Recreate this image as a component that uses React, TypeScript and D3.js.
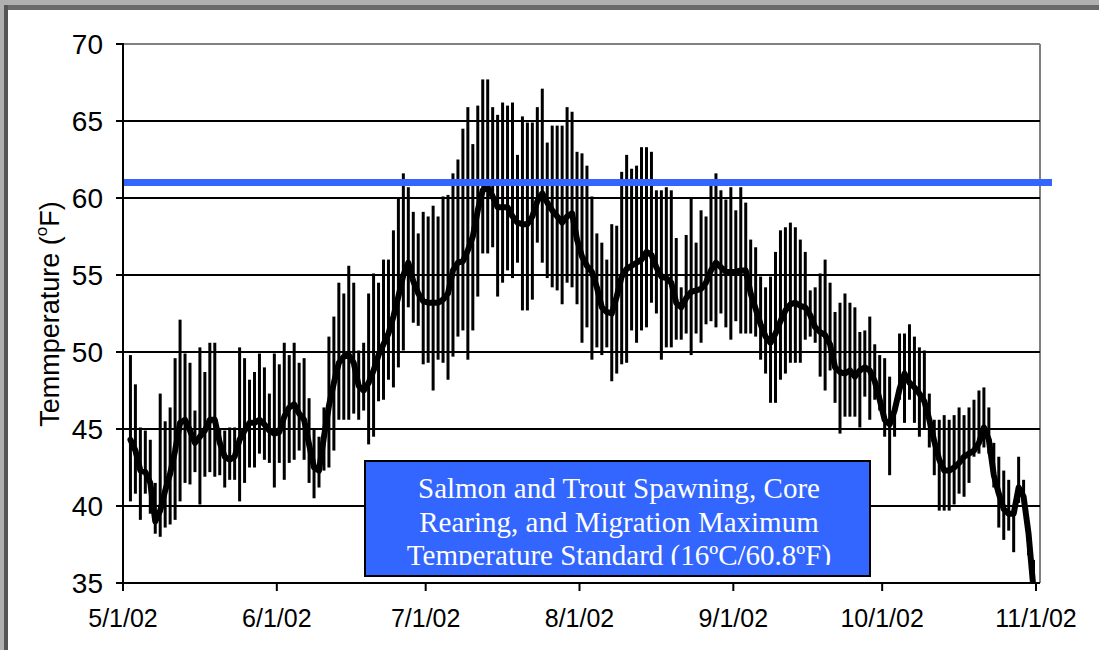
import React from "react";
import * as d3 from "d3";

// Daily readings, 2 May 2002 .. 31 Oct 2002 (degrees F)
const startDay = new Date(2002, 4, 2, 12);

const dailyMax: number[] = [
  49.8, 47.9, 45.1, 44.9, 44.3, 41.5, 47.3, 45.5, 46.4, 49.6,
  52.1, 49.9, 49.3, 46.2, 50.3, 48.7, 50.6, 50.6, 45.0, 44.9,
  45.1, 45.1, 50.3, 49.6, 48.2, 48.7, 49.9, 49.0, 47.3, 49.9,
  49.2, 50.6, 49.8, 50.6, 49.3, 49.6, 47.0, 45.0, 44.5, 46.4,
  51.0, 52.3, 54.5, 53.8, 55.6, 54.5, 50.1, 50.6, 53.8, 55.1,
  54.5, 56.0, 56.0, 57.9, 60.0, 61.6, 60.7, 59.1, 57.7, 59.1,
  58.8, 59.5, 58.8, 60.1, 60.2, 61.6, 62.5, 64.5, 65.9, 63.5,
  66.0, 67.7, 67.7, 65.9, 65.4, 66.2, 66.0, 66.2, 62.8, 65.3,
  64.9, 64.9, 65.9, 67.1, 63.6, 64.7, 64.7, 64.7, 65.9, 65.6,
  63.0, 62.9, 62.1, 60.1, 57.7, 57.1, 56.0, 58.3, 58.2, 61.7,
  62.8, 61.9, 62.1, 63.3, 63.3, 63.0, 60.5, 60.5, 60.7, 60.5,
  57.4, 54.2, 57.6, 60.0, 57.1, 59.2, 58.8, 60.8, 61.6, 60.5,
  59.9, 60.7, 59.2, 60.7, 59.7, 57.3, 56.8, 54.9, 54.2, 54.9,
  56.5, 57.9, 58.1, 58.4, 58.1, 57.3, 56.5, 54.0, 54.2, 55.1,
  56.0, 54.5, 52.6, 53.2, 53.8, 53.2, 52.9, 51.3, 51.4, 52.3,
  50.5, 49.8, 49.6, 48.4, 46.4, 51.2, 51.2, 51.8, 51.0, 50.3,
  50.1, 47.3, 45.6, 45.6, 45.9, 45.6, 45.9, 46.4, 45.9, 46.4,
  46.9, 47.5, 47.7, 46.4, 44.1, 43.2, 42.3, 41.7, 39.5, 43.2,
  41.7, 38.5, 36.5,
];

const dailyMin: number[] = [
  40.3, 40.8, 39.1, 40.8, 39.5, 38.2, 38.0, 38.6, 38.8, 39.1,
  40.3, 41.5, 41.4, 42.2, 40.1, 41.9, 42.2, 41.9, 42.0, 41.2,
  41.7, 41.7, 40.3, 41.5, 42.5, 42.5, 43.4, 43.0, 42.8, 41.2,
  42.8, 41.7, 42.8, 43.0, 43.6, 43.0, 41.5, 40.5, 41.2, 42.3,
  42.5, 43.6, 45.6, 45.6, 45.6, 46.0, 45.6, 46.2, 44.0, 44.5,
  46.8, 46.9, 48.2, 47.7, 49.0, 50.1, 52.9, 51.9, 51.7, 49.2,
  49.3, 47.5, 49.5, 49.3, 48.2, 49.7, 51.0, 51.4, 49.5, 51.4,
  53.6, 56.4, 56.4, 56.8, 53.6, 54.5, 55.3, 54.8, 55.8, 52.7,
  52.7, 53.4, 57.1, 55.8, 54.8, 54.2, 54.0, 53.1, 54.5, 54.2,
  53.1, 50.6, 51.6, 49.5, 50.3, 49.8, 50.3, 48.1, 48.6, 49.2,
  49.3, 51.4, 50.6, 51.4, 51.6, 53.2, 52.5, 49.5, 50.3, 50.3,
  50.8, 50.8, 51.2, 49.8, 51.2, 50.6, 51.8, 52.0, 51.6, 52.5,
  51.6, 50.8, 52.0, 51.2, 51.2, 51.2, 51.0, 49.5, 48.6, 46.7,
  46.7, 48.2, 48.6, 49.3, 49.3, 49.3, 50.8, 51.0, 50.6, 48.4,
  47.5, 48.8, 46.7, 44.7, 45.8, 45.8, 45.8, 45.1, 47.1, 45.6,
  46.9, 46.2, 44.5, 42.0, 44.5, 46.9, 45.4, 46.9, 45.4, 44.5,
  45.0, 43.8, 42.0, 39.7, 39.7, 39.7, 40.1, 40.8, 40.6, 41.5,
  43.2, 43.4, 43.8, 43.4, 41.2, 38.6, 37.8, 38.4, 37.0, 40.2,
  39.9, 36.8, 35.0,
];

const dailyMean: number[] = [
  44.3, 43.6, 42.3, 42.2, 41.5, 39.0, 39.7, 41.0, 42.1, 43.6,
  45.4, 45.6, 44.9, 44.1, 44.5, 44.9, 45.6, 45.6, 44.1, 43.2,
  43.0, 43.2, 44.3, 44.9, 45.4, 45.4, 45.6, 45.3, 44.9, 44.7,
  44.8, 45.8, 46.4, 46.6, 46.0, 45.6, 44.0, 42.5, 42.3, 44.5,
  46.5, 48.0, 49.3, 49.7, 49.8, 49.3, 47.8, 47.5, 48.0, 48.8,
  49.8, 50.5, 51.2, 52.3, 53.6, 55.0, 55.8, 54.6, 53.8, 53.3,
  53.2, 53.2, 53.2, 53.4, 53.8, 55.3, 55.8, 55.9, 56.6, 57.5,
  59.2, 60.5, 60.7, 60.1, 59.4, 59.4, 59.4, 58.8, 58.4, 58.3,
  58.3, 58.8, 59.8, 60.3, 59.7, 59.2, 58.8, 58.4, 58.8, 59.0,
  57.3, 56.2, 55.6, 55.2, 54.2, 52.9, 52.6, 52.5, 53.6, 54.9,
  55.4, 55.6, 55.8, 56.0, 56.5, 56.3, 55.5, 54.9, 54.8, 54.5,
  53.2, 52.9, 53.5, 53.9, 54.0, 54.1, 54.5, 55.3, 55.8, 55.5,
  55.2, 55.2, 55.2, 55.3, 55.3, 53.8, 52.8, 51.8, 51.0, 50.6,
  51.2, 52.0, 52.7, 53.1, 53.2, 53.0, 52.9, 52.4, 51.6, 51.3,
  51.1, 50.5, 49.0, 48.7, 48.6, 48.8, 48.4, 48.8, 49.0, 48.8,
  48.1, 46.9, 45.6, 45.3, 46.2, 47.6, 48.6, 48.0, 47.7, 47.3,
  46.8, 45.6, 44.2, 43.0, 42.3, 42.3, 42.5, 42.8, 43.2, 43.4,
  43.6, 44.1, 45.1, 44.3, 42.0, 40.8, 39.8, 39.5, 39.5, 41.2,
  40.6, 38.2, 34.6,
];

const yTicks: number[] = [35, 40, 45, 50, 55, 60, 65, 70];
const gridValues: number[] = [40, 45, 50, 55, 60, 65];
const xTickDates: Date[] = [
  new Date(2002, 4, 1), new Date(2002, 5, 1), new Date(2002, 6, 1),
  new Date(2002, 7, 1), new Date(2002, 8, 1), new Date(2002, 9, 1),
  new Date(2002, 10, 1),
];
const standardLineValue = 61.0;
const yTitle = "Temmperature (";
const noteLines: string[] = [
  "Salmon and Trout Spawning, Core",
  "Rearing, and Migration Maximum",
  "Temperature Standard (16ºC/60.8ºF)",
];

const W = 1099;
const H = 650;
const L = 123, R = 1040, T = 44, B = 583;

export default function App() {
  const x = d3.scaleTime()
    .domain([new Date(2002, 4, 1), new Date(2002, 10, 1)])
    .range([L, 1036]);
  const y = d3.scaleLinear().domain([35, 70]).range([B, T]);

  const days = dailyMean.map((_, i) => d3.timeDay.offset(startDay, i));
  const meanLine = d3.line<number>()
    .x((_, i) => x(days[i]))
    .y((d) => y(d));

  const fmt = d3.timeFormat("%-m/%-d/%y");
  const sans = "'Liberation Sans', Arial, sans-serif";
  const serif = "'Liberation Serif', 'Times New Roman', serif";

  return (
    <svg width={W} height={H} style={{ position: "absolute", left: 0, top: 0, background: "#fff" }}>
      <defs>
        <clipPath id="plotClip">
          <rect x={L} y={T} width={R - L} height={B - T} />
        </clipPath>
        <clipPath id="noteClip">
          <rect x={366} y={462} width={503} height={103} />
        </clipPath>
      </defs>
      {/* window frame */}
      <rect x={0} y={0} width={W} height={10} fill="#b0b0b0" />
      <rect x={0} y={5} width={W} height={5} fill="#6a6a6a" />
      <rect x={0} y={0} width={8} height={H} fill="#b0b0b0" />
      <rect x={4} y={5} width={4} height={H} fill="#555" />

      {/* plot frame */}
      <line x1={L} x2={R} y1={T} y2={T} stroke="#808080" strokeWidth={2} />
      <line x1={R} x2={R} y1={T} y2={B} stroke="#808080" strokeWidth={2} />
      {gridValues.map((v) => (
        <line key={v} x1={L} x2={R} y1={y(v)} y2={y(v)} stroke="#000" strokeWidth={2} />
      ))}

      {/* data */}
      <g clipPath="url(#plotClip)">
        {days.map((d, i) => (
          <line key={i} x1={x(d)} x2={x(d)} y1={y(dailyMin[i])} y2={y(dailyMax[i])}
            stroke="#000" strokeWidth={3} />
        ))}
        <path d={meanLine(dailyMean) || ""} fill="none" stroke="#000" strokeWidth={6}
          strokeLinejoin="round" strokeLinecap="round" />
      </g>

      {/* standard line */}
      <line x1={L} x2={1052} y1={y(standardLineValue)} y2={y(standardLineValue)}
        stroke="#3366ff" strokeWidth={7} />

      {/* axes */}
      <line x1={L} x2={L} y1={T - 1} y2={B + 1} stroke="#000" strokeWidth={2} />
      <line x1={L - 1} x2={R} y1={B} y2={B} stroke="#000" strokeWidth={2} />
      {yTicks.map((v) => (
        <g key={v}>
          <line x1={L - 7} x2={L} y1={y(v)} y2={y(v)} stroke="#000" strokeWidth={2} />
          <text x={103} y={y(v)} textAnchor="end" dominantBaseline="central"
            fontFamily={sans} fontSize={28} fill="#000">{v}</text>
        </g>
      ))}
      {xTickDates.map((d, i) => (
        <g key={i}>
          <line x1={x(d)} x2={x(d)} y1={B} y2={B + 8} stroke="#000" strokeWidth={2} />
          <text x={x(d)} y={627} textAnchor="middle" fontFamily={sans} fontSize={25} fill="#000">
            {fmt(d)}
          </text>
        </g>
      ))}

      {/* y title */}
      <text transform="translate(50,314) rotate(-90)" textAnchor="middle" dominantBaseline="central"
        fontFamily={sans} fontSize={27} fill="#000">
        {yTitle}
        <tspan fontSize={17} dy={-9}>o</tspan>
        <tspan dy={9}>F)</tspan>
      </text>

      {/* note box */}
      <rect x={365} y={461} width={505} height={115} fill="#3366ff" stroke="#000" strokeWidth={2} />
      <g clipPath="url(#noteClip)">
        {noteLines.map((t, i) => (
          <text key={i} x={619} y={498 + i * 33.5} textAnchor="middle" fontFamily={serif}
            fontSize={29} fill="#fff">{t}</text>
        ))}
      </g>
    </svg>
  );
}
